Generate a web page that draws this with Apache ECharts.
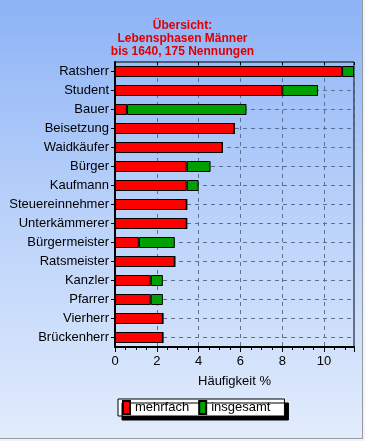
<!DOCTYPE html>
<html>
<head>
<meta charset="utf-8">
<script src="https://cdn.jsdelivr.net/npm/echarts@6/dist/echarts.min.js"></script>
<style>
html,body{margin:0;padding:0;}
#c{width:365px;height:441px;background:linear-gradient(to bottom,#8db3f6 0%,#b7d0fa 45%,#e2ecfc 100%);}
</style>
</head>
<body>
<div id="c"></div>
<script>
const categories = ['Ratsherr','Student','Bauer','Beisetzung','Waidkäufer','Bürger','Kaufmann','Steuereinnehmer','Unterkämmerer','Bürgermeister','Ratsmeister','Kanzler','Pfarrer','Vierherr','Brückenherr'];
const mehrfach = [10.86, 8.0, 0.57, 5.71, 5.14, 3.43, 3.43, 3.43, 3.43, 1.14, 2.86, 1.71, 1.71, 2.29, 2.29];
const insgesamt = [11.43, 9.71, 6.29, 5.71, 5.14, 4.57, 4.0, 3.43, 3.43, 2.86, 2.86, 2.29, 2.29, 2.29, 2.29];
const xTicks = [0, 2, 4, 6, 8, 10];
const titleText = 'Übersicht:\nLebensphasen Männer\nbis 1640, 175 Nennungen';
const xName = 'Häufigkeit %';

const diff = insgesamt.map((v, i) => Math.max(0, +(v - mehrfach[i]).toFixed(2)));
const font = 'Liberation Sans, Arial, sans-serif';
const chart = echarts.init(document.getElementById('c'), null, {renderer:'canvas'});
chart.setOption({
  animation:false,
  textStyle:{fontFamily:font},
  title:{text:titleText,left:'center',top:14,textStyle:{color:'#e00000',fontSize:12,fontWeight:'bold',lineHeight:13,fontFamily:font}},
  grid:{left:115,right:11,top:62,bottom:94,containLabel:false,show:true,borderColor:'#000',borderWidth:1,backgroundColor:'transparent'},
  legend:{
    left:118,top:399,orient:'horizontal',
    itemWidth:7,itemHeight:13,itemGap:9,
    backgroundColor:'#fff',borderColor:'#000',borderWidth:1,
    padding:[1,14,1,4],
    shadowColor:'#000',shadowOffsetX:4,shadowOffsetY:4,shadowBlur:0,
    textStyle:{fontSize:13,color:'#000',fontFamily:font},
    data:[{name:'mehrfach',icon:'rect'},{name:'insgesamt',icon:'rect'}]
  },
  xAxis:[{
    type:'value',min:0,max:11.43,interval:2,
    name:xName,nameLocation:'middle',nameGap:28,
    nameTextStyle:{fontSize:13,color:'#000',fontFamily:font},
    axisLine:{show:true,lineStyle:{color:'#000',width:2}},
    axisTick:{show:true,length:5,lineStyle:{color:'#000'}},
    minorTick:{show:true,splitNumber:4,length:3,lineStyle:{color:'#000'}},
    axisLabel:{fontSize:13,color:'#000',margin:8,showMaxLabel:false,
      formatter:v => xTicks.indexOf(v) >= 0 ? String(v) : ''},
    splitLine:{show:true,lineStyle:{color:'#5f6f90',type:[4,4],width:1}}
  },{
    type:'value',position:'top',min:0,max:11.43,interval:2,
    axisLine:{show:false},
    axisTick:{show:true,inside:true,length:3,lineStyle:{color:'#000'}},
    axisLabel:{show:false},splitLine:{show:false}
  }],
  yAxis:{
    type:'category',data:categories,inverse:true,
    axisLine:{show:true,lineStyle:{color:'#000',width:2}},
    axisTick:{show:true,alignWithLabel:true,length:4,lineStyle:{color:'#000'}},
    axisLabel:{fontSize:13,color:'#000',margin:6},
    splitLine:{show:false}
  },
  series:[
    {type:'line',data:[],z:1,silent:true,showSymbol:false,
     markLine:{silent:true,z:1,symbol:'none',label:{show:false},
       lineStyle:{color:'#5f6f90',type:[4,4],width:1},
       data:categories.map(c => ({yAxis:c}))}},
    {name:'mehrfach',type:'bar',stack:'s',data:mehrfach,barWidth:11,z:3,
     itemStyle:{color:'#ff0000',borderColor:'#000',borderWidth:1}},
    {name:'insgesamt',type:'bar',stack:'s',data:diff,barWidth:11,z:3,
     itemStyle:{color:'#00a000',borderColor:'#000',borderWidth:1}}
  ],
  graphic:[
    {type:'line',shape:{x1:362.5,y1:0,x2:362.5,y2:439},style:{stroke:'#9a9a9a',lineWidth:1},silent:true},
    {type:'line',shape:{x1:0,y1:438.5,x2:363,y2:438.5},style:{stroke:'#9a9a9a',lineWidth:1},silent:true},
    {type:'rect',shape:{x:363,y:0,width:2,height:441},style:{fill:'#f0f4fa'},silent:true},
    {type:'rect',shape:{x:0,y:439,width:365,height:2},style:{fill:'#f0f4fa'},silent:true}
  ]
});
</script>
</body>
</html>
